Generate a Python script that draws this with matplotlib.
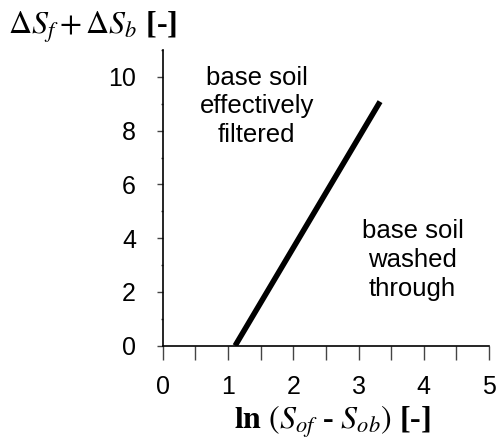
import matplotlib
matplotlib.use("Agg")
import matplotlib.pyplot as plt
from matplotlib.ticker import MultipleLocator

plt.rcParams['font.family'] = ['Liberation Sans', 'DejaVu Sans']
plt.rcParams['mathtext.fontset'] = 'stix'
plt.rcParams['xtick.labelsize'] = 18
plt.rcParams['ytick.labelsize'] = 18

# Boundary line between the two filtration regimes
boundary_x = [1.11, 3.33]
boundary_y = [0.0, 9.08]

x_limits = (0, 5)
y_limits = (0, 11)
x_ticks = [0, 1, 2, 3, 4, 5]
y_ticks = [0, 2, 4, 6, 8, 10]

region_upper = "base soil\neffectively\nfiltered"
region_lower = "base soil\nwashed\nthrough"
region_upper_pos = (1.44, 8.9)
region_lower_pos = (3.83, 3.18)

fig = plt.figure(figsize=(4.96, 4.45), dpi=100)
ax = fig.add_axes([0.328, 0.2231, 0.986 - 0.328, 0.8876 - 0.2231])

ax.plot(boundary_x, boundary_y, color='black', lw=4.0, solid_capstyle='butt')

ax.set_xlim(*x_limits)
ax.set_ylim(*y_limits)
ax.set_xticks(x_ticks)
ax.set_yticks(y_ticks)
ax.xaxis.set_minor_locator(MultipleLocator(0.5))
ax.yaxis.set_minor_locator(MultipleLocator(1))

for side in ('top', 'right'):
    ax.spines[side].set_visible(False)
for side in ('left', 'bottom'):
    ax.spines[side].set_linewidth(1.2)
    ax.spines[side].set_color('black')

ax.tick_params(axis='x', which='both', direction='out', length=10, width=1.0,
               color='#444444', pad=11)
ax.tick_params(axis='y', which='major', direction='out', length=4.3, width=1.0,
               color='#444444', pad=15)
ax.tick_params(axis='y', which='minor', direction='out', length=1.5, width=1.0,
               color='#444444')

ax.text(*region_upper_pos, region_upper, ha='center', va='center',
        fontsize=18.5, linespacing=1.25)
ax.text(*region_lower_pos, region_lower, ha='center', va='center',
        fontsize=18.5, linespacing=1.25)

fig.text(0.016, 0.925, r"$\Delta S_f + \Delta S_b$ [-]", ha='left', va='baseline',
         fontsize=23, fontweight='bold', family='Liberation Serif')
fig.text(0.67, 0.0375, r"$\mathbf{ln}$ $(S_{of}$ - $S_{ob})$ [-]", ha='center',
         va='baseline', fontsize=23, fontweight='bold', family='Liberation Serif')

fig.savefig('out.png', dpi=100)
